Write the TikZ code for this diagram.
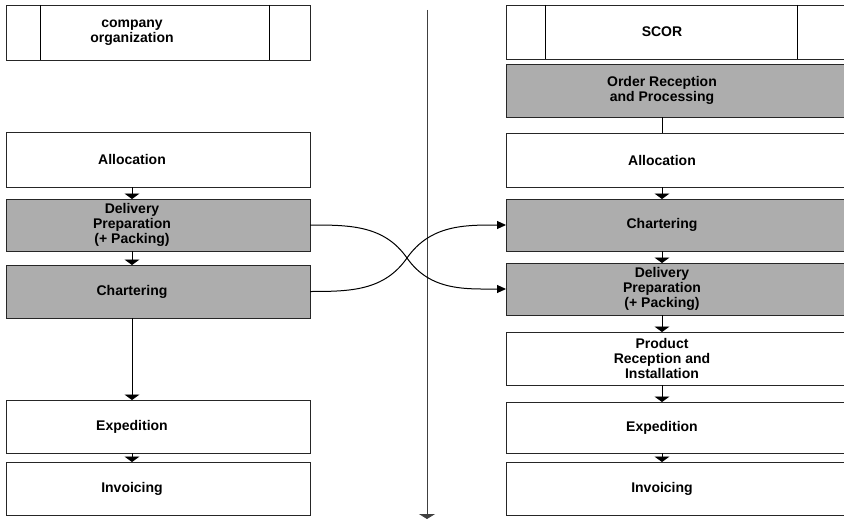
\documentclass[tikz,border=0pt]{standalone}
\usepackage{fontspec}
\setmainfont{Liberation Sans}
\usetikzlibrary{arrows.meta}
\begin{document}
\begin{tikzpicture}[x=1pt,y=-1pt,
  box/.style={draw=black!85,line width=0.8pt,rectangle,inner sep=0pt,outer sep=0pt,anchor=north west},
  lbox/.style={box,minimum width=304pt},
  rbox/.style={box,minimum width=342pt},
  shade/.style={fill=black!32},
  txt/.style={font=\bfseries\fontsize{14}{15}\selectfont,align=center,inner sep=0pt},
  varrow/.style={line width=0.8pt,-{Triangle[width=15pt,length=5.5pt]}},
  plain/.style={line width=0.8pt},
  carrow/.style={line width=1pt,-{Triangle[width=8pt,length=9pt]}}
]
\useasboundingbox (0,0) rectangle (844,519);
% left column
\node[lbox,minimum height=55pt] (ltop) at (6,5) {};
\node[lbox,minimum height=55pt] (lal) at (6,132) {};
\node[lbox,shade,minimum height=52pt] (ldp) at (6,199) {};
\node[lbox,shade,minimum height=53pt] (lch) at (6,265) {};
\node[lbox,minimum height=53pt] (lex) at (6,400) {};
\node[lbox,minimum height=53pt] (lin) at (6,462) {};
\coordinate (la1) at (40,0);
\coordinate (la2) at (269,0);
\draw[plain] (ltop.north -| la1) -- (ltop.south -| la1);
\draw[plain] (ltop.north -| la2) -- (ltop.south -| la2);
\coordinate (lx) at (132,0);
\node[txt] (tltop) at (ltop.center -| lx) {company\\organization};
\node[txt] (tlal) at (lal.center -| lx) {Allocation};
\node[txt] (tldp) at (ldp.center -| lx) {Delivery\\Preparation\\(+ Packing)};
\node[txt] (tlch) at (lch.center -| lx) {Chartering};
\node[txt] (tlex) at (lex.center -| lx) {Expedition};
\node[txt] (tlin) at (lin.center -| lx) {Invoicing};
\draw[varrow] (lal.south -| lx) -- (ldp.north -| lx);
\draw[varrow] (ldp.south -| lx) -- (lch.north -| lx);
\draw[varrow] (lch.south -| lx) -- (lex.north -| lx);
\draw[varrow] (lex.south -| lx) -- (lin.north -| lx);
% right column
\node[rbox,minimum height=54pt] (rtop) at (506,5) {};
\node[rbox,shade,minimum height=53pt] (ror) at (506,64) {};
\node[rbox,minimum height=54pt] (ral) at (506,133) {};
\node[rbox,shade,minimum height=52pt] (rch) at (506,199) {};
\node[rbox,shade,minimum height=52pt] (rdp) at (506,263) {};
\node[rbox,minimum height=53pt] (rpr) at (506,332) {};
\node[rbox,minimum height=51pt] (rex) at (506,402) {};
\node[rbox,minimum height=53pt] (rin) at (506,462) {};
\coordinate (ra1) at (545,0);
\coordinate (ra2) at (797,0);
\draw[plain] (rtop.north -| ra1) -- (rtop.south -| ra1);
\draw[plain] (rtop.north -| ra2) -- (rtop.south -| ra2);
\coordinate (rx) at (662,0);
\node[txt] (trtop) at (rtop.center -| rx) {SCOR};
\node[txt] (tror) at (ror.center -| rx) {Order Reception\\and Processing};
\node[txt] (tral) at (ral.center -| rx) {Allocation};
\node[txt] (trch) at (rch.center -| rx) {Chartering};
\node[txt] (trdp) at (rdp.center -| rx) {Delivery\\Preparation\\(+ Packing)};
\node[txt] (trpr) at (rpr.center -| rx) {Product\\Reception and\\Installation};
\node[txt] (trex) at (rex.center -| rx) {Expedition};
\node[txt] (trin) at (rin.center -| rx) {Invoicing};
\draw[plain] (ror.south -| rx) -- (ral.north -| rx);
\draw[varrow] (ral.south -| rx) -- (rch.north -| rx);
\draw[varrow] (rch.south -| rx) -- (rdp.north -| rx);
\draw[varrow] (rdp.south -| rx) -- (rpr.north -| rx);
\draw[varrow] (rpr.south -| rx) -- (rex.north -| rx);
\draw[varrow] (rex.south -| rx) -- (rin.north -| rx);
% center timeline
\coordinate (ct) at (427,10);
\coordinate (cb) at (427,519);
\draw[line width=0.8pt,draw=black!75,-{Triangle[width=16pt,length=5pt]}] (ct) -- (cb);
% crossing curves
\coordinate (X) at (407,258);
\draw[carrow] (ldp.east) to[out=0,in=125] (X) to[out=-55,in=180] (rdp.west);
\draw[carrow] (lch.east) to[out=0,in=-125] (X) to[out=55,in=180] (rch.west);
\end{tikzpicture}
\end{document}
